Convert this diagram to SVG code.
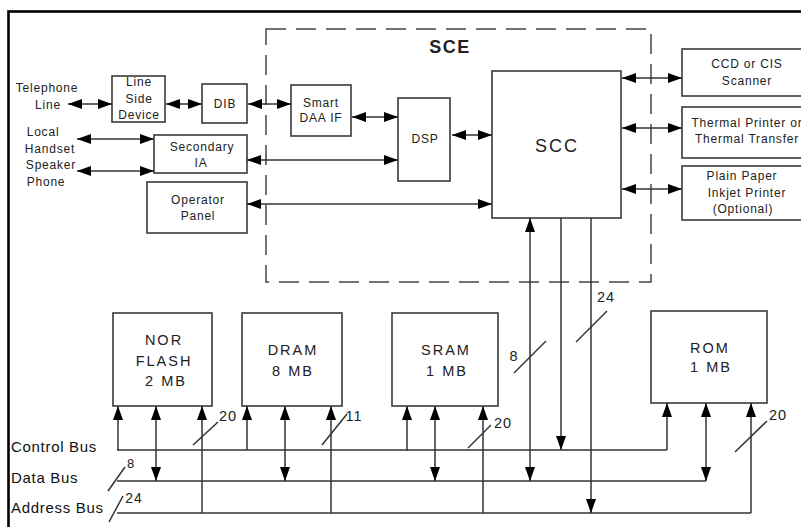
<svg xmlns="http://www.w3.org/2000/svg" width="801" height="527" viewBox="0 0 801 527">
<style>
.box{fill:#fff;stroke:#3a3a3a;stroke-width:1.6}
.t{font-family:"Liberation Sans",Arial,sans-serif;font-size:12px;letter-spacing:0.8px;fill:#222;text-anchor:middle}
.m{font-family:"Liberation Sans",Arial,sans-serif;font-size:14.5px;letter-spacing:2px;fill:#222;text-anchor:middle}
.n{font-family:"Liberation Sans",Arial,sans-serif;font-size:14.5px;letter-spacing:1px;fill:#222;text-anchor:middle}
.b{font-family:"Liberation Sans",Arial,sans-serif;font-size:15px;letter-spacing:0.7px;fill:#111}
.c{stroke:#333;stroke-width:1.5;fill:none}
.a{marker-end:url(#ah)}
.d{marker-start:url(#ah);marker-end:url(#ah)}
</style>
<defs>
<marker id="ah" markerUnits="userSpaceOnUse" markerWidth="14" markerHeight="10" refX="14" refY="5" orient="auto-start-reverse" viewBox="0 0 14 10">
<path d="M0,0 L14,5 L0,10 z" fill="#000"/>
</marker>
</defs>
<rect x="0" y="0" width="801" height="527" fill="#fff"/>
<rect x="8.5" y="11.5" width="810" height="530" fill="none" stroke="#000" stroke-width="2.6"/>

<g id="sce">
<rect x="266" y="29" width="385" height="253" fill="none" stroke="#444" stroke-width="1.5" stroke-dasharray="20 10"/>
<text x="450" y="53" style="font-family:'Liberation Sans',Arial,sans-serif;font-size:18px;font-weight:bold;letter-spacing:1.5px;fill:#222;text-anchor:middle">SCE</text>
</g>

<g id="telephone-line"><text class="t" x="47" y="92">Telephone</text><text class="t" x="48" y="109">Line</text></g>
<g id="local-handset"><text class="t" x="43" y="136">Local</text><text class="t" x="50" y="153">Handset</text><text class="t" x="51" y="169">Speaker</text><text class="t" x="46" y="186">Phone</text></g>

<g id="line-side-device"><rect class="box" x="112" y="76" width="53" height="46"/><text class="t" x="139" y="86">Line</text><text class="t" x="139" y="103">Side</text><text class="t" x="139" y="119">Device</text></g>
<g id="dib"><rect class="box" x="202" y="84" width="45" height="39"/><text class="t" x="225" y="108">DIB</text></g>
<g id="smart-daa-if"><rect class="box" x="291" y="85" width="60" height="51"/><text class="t" x="321" y="107">Smart</text><text class="t" x="321" y="122">DAA IF</text></g>
<g id="dsp"><rect class="box" x="398" y="98" width="52" height="83"/><text class="t" x="425" y="143">DSP</text></g>
<g id="scc"><rect class="box" x="492" y="71" width="129" height="147"/><text x="557" y="152" style="font-family:'Liberation Sans',Arial,sans-serif;font-size:18px;letter-spacing:2px;fill:#222;text-anchor:middle">SCC</text></g>
<g id="secondary-ia"><rect class="box" x="154" y="135" width="93" height="38"/><text class="t" x="202" y="151">Secondary</text><text class="t" x="201" y="167">IA</text></g>
<g id="operator-panel"><rect class="box" x="147" y="182" width="100" height="51"/><text class="t" x="198" y="204">Operator</text><text class="t" x="198" y="220">Panel</text></g>

<g id="ccd-scanner"><rect class="box" x="682" y="49" width="140" height="47"/><text class="t" x="747" y="68">CCD or CIS</text><text class="t" x="747" y="85">Scanner</text></g>
<g id="thermal-printer"><rect class="box" x="682" y="107" width="140" height="51"/><text class="t" x="747" y="127">Thermal Printer or</text><text class="t" x="747" y="143">Thermal Transfer</text></g>
<g id="inkjet-printer"><rect class="box" x="682" y="166" width="140" height="54"/><text class="t" x="742" y="180">Plain Paper</text><text class="t" x="747" y="197">Inkjet Printer</text><text class="t" x="743" y="213">(Optional)</text></g>

<g id="nor-flash"><rect class="box" x="113" y="313" width="99" height="93"/><text class="m" x="164" y="345">NOR</text><text class="m" x="164" y="366">FLASH</text><text class="m" x="166" y="386">2 MB</text></g>
<g id="dram"><rect class="box" x="242" y="313" width="100" height="93"/><text class="m" x="293" y="355">DRAM</text><text class="m" x="293" y="376">8 MB</text></g>
<g id="sram"><rect class="box" x="392" y="313" width="106" height="93"/><text class="m" x="446" y="355">SRAM</text><text class="m" x="447" y="376">1 MB</text></g>
<g id="rom"><rect class="box" x="651" y="311" width="116" height="92"/><text class="m" x="710" y="353">ROM</text><text class="m" x="711" y="372">1 MB</text></g>

<g id="bus-labels">
<text class="b" x="11" y="452">Control Bus</text>
<text class="b" x="11" y="483">Data Bus</text>
<text class="b" x="11" y="513">Address Bus</text>
</g>

<g id="connectors">
<line class="c d" x1="68" y1="104" x2="112" y2="104"/>
<line class="c d" x1="166" y1="104" x2="202" y2="104"/>
<line class="c d" x1="248" y1="104" x2="291" y2="104"/>
<line class="c d" x1="352" y1="117" x2="398" y2="117"/>
<line class="c d" x1="452" y1="135" x2="492" y2="135"/>
<line class="c d" x1="77" y1="139" x2="154" y2="139"/>
<line class="c d" x1="77" y1="171" x2="154" y2="171"/>
<line class="c d" x1="247" y1="160" x2="398" y2="160"/>
<line class="c d" x1="247" y1="204" x2="492" y2="204"/>
<line class="c d" x1="622" y1="78" x2="682" y2="78"/>
<line class="c d" x1="622" y1="128" x2="682" y2="128"/>
<line class="c d" x1="622" y1="189" x2="682" y2="189"/>

<polyline class="c" points="117,450 667,450"/>
<polyline class="c" points="117,481 706,481"/>
<polyline class="c" points="117,513 751,513"/>

<line class="c a" x1="118" y1="450" x2="118" y2="406"/>
<line class="c d" x1="156" y1="406" x2="156" y2="481"/>
<line class="c a" x1="202" y1="513" x2="202" y2="406"/>
<line class="c a" x1="247" y1="450" x2="247" y2="406"/>
<line class="c d" x1="285" y1="406" x2="285" y2="481"/>
<line class="c a" x1="331" y1="513" x2="331" y2="406"/>
<line class="c a" x1="407" y1="451" x2="407" y2="406"/>
<line class="c d" x1="435" y1="406" x2="435" y2="481"/>
<line class="c a" x1="483" y1="513" x2="483" y2="406"/>
<line class="c a" x1="667" y1="450" x2="667" y2="403"/>
<line class="c d" x1="706" y1="403" x2="706" y2="481"/>
<line class="c a" x1="751" y1="513" x2="751" y2="403"/>

<line class="c d" x1="530" y1="218" x2="530" y2="481"/>
<line class="c a" x1="561" y1="218" x2="561" y2="450"/>
<line class="c a" x1="591" y1="218" x2="591" y2="513"/>

<line class="c" x1="193" y1="445" x2="218" y2="422"/>
<line class="c" x1="322" y1="445" x2="347" y2="414"/>
<line class="c" x1="468" y1="448" x2="491" y2="425"/>
<line class="c" x1="735" y1="452" x2="767" y2="421"/>
<line class="c" x1="514" y1="373" x2="546" y2="341"/>
<line class="c" x1="576" y1="342" x2="607" y2="311"/>
<line class="c" x1="108" y1="491" x2="125" y2="467"/>
<line class="c" x1="109" y1="522" x2="123" y2="496"/>
</g>

<g id="bus-widths">
<text class="n" x="228" y="421">20</text>
<text class="n" x="354" y="421">11</text>
<text class="n" x="503" y="428">20</text>
<text class="n" x="778" y="420">20</text>
<text class="n" x="514" y="361">8</text>
<text class="n" x="606" y="302">24</text>
<text class="n" x="131" y="468" style="font-size:13px">8</text>
<text class="n" x="134" y="503" style="font-size:14px">24</text>
</g>
</svg>
